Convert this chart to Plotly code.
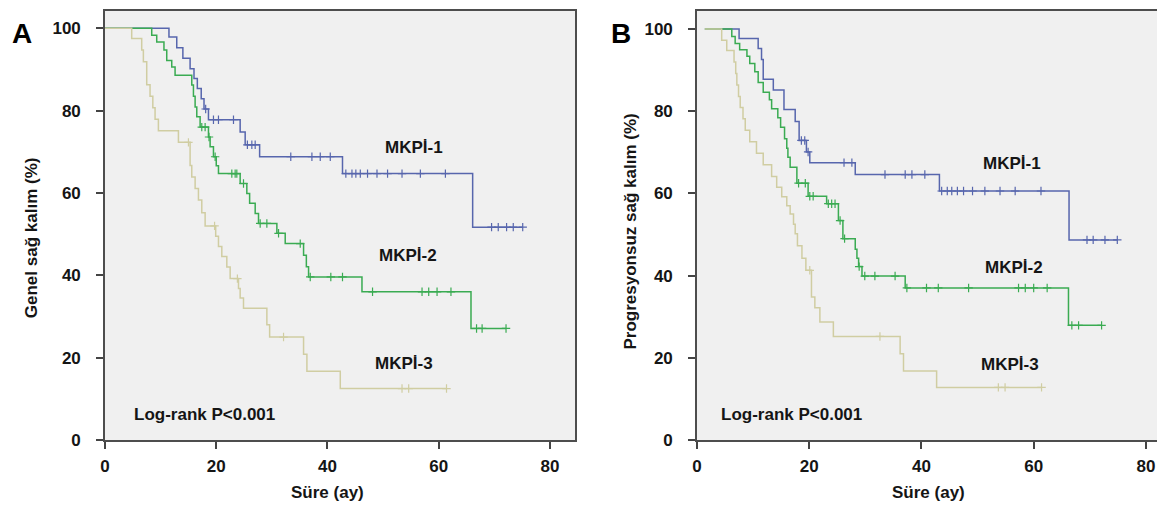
import plotly.graph_objects as go

# the page puts the figure 8px in from the top-left corner
OFF = 8
W, H = 1165 - OFF, 505 - OFF

# ---- Panel A: Genel sağ kalım (time in months, survival %) ----
a1_t = [11.5, 12.9, 14.0, 15.3, 16.0, 16.6, 17.3, 17.8, 18.6, 24.3, 25.2, 27.8, 42.7, 66.1]
a1_s = [97.9, 95.3, 92.7, 90.2, 87.8, 85.4, 82.9, 80.4, 77.8, 74.8, 71.7, 68.8, 64.7, 51.7]
a1_c = [18.1, 19.5, 20.4, 23.1, 25.6, 26.4, 27.0, 33.4, 37.2, 38.7, 40.5, 43.3, 44.4, 45.1,
        45.9, 47.2, 48.9, 50.8, 53.4, 56.7, 61.2, 69.5, 70.7, 72.2, 73.4, 75.1]

a2_t = [8.4, 9.3, 10.6, 11.1, 12.0, 12.6, 15.6, 15.9, 16.2, 16.5, 17.1, 18.6, 18.9, 19.5, 20.0,
        20.4, 24.3, 25.5, 26.0, 27.0, 27.6, 30.9, 32.4, 35.7, 36.2, 36.6, 46.2, 65.8]
a2_s = [98.3, 96.7, 94.7, 92.2, 90.6, 88.6, 86.2, 83.5, 80.9, 78.5, 76.0, 73.6, 71.2, 68.8, 66.6,
        64.7, 62.3, 59.9, 57.5, 55.0, 52.6, 50.2, 47.7, 44.9, 42.1, 39.6, 36.0, 27.1]
a2_c = [17.4, 18.0, 18.7, 19.8, 22.8, 23.4, 23.7, 24.9, 27.9, 29.1, 31.2, 35.1, 36.9, 40.6,
        42.7, 48.1, 57.0, 58.2, 59.7, 62.2, 66.8, 67.8, 72.1]

a3_t = [4.8, 6.6, 6.9, 7.5, 8.1, 8.6, 9.0, 9.6, 13.2, 15.3, 15.6, 16.2, 16.8, 17.4, 18.0, 19.9,
        20.4, 21.0, 21.9, 22.5, 24.0, 24.3, 24.9, 29.1, 29.6, 35.7, 36.3, 42.3]
a3_s = [97.5, 94.7, 91.9, 86.3, 83.5, 80.7, 77.9, 75.1, 72.3, 66.7, 63.9, 61.1, 58.3, 55.2, 52.0,
        49.5, 47.0, 44.6, 42.0, 39.2, 36.8, 34.5, 32.0, 28.0, 25.0, 20.8, 16.7, 12.5]
a3_c = [15.0, 19.7, 23.8, 32.1, 53.4, 54.6, 61.4]

# ---- Panel B: Progresyonsuz sağ kalım ----
b1_t = [7.5, 10.9, 11.5, 11.8, 13.6, 15.5, 17.5, 18.2, 19.5, 20.1, 28.2, 43.2, 66.3]
b1_s = [97.7, 95.3, 92.6, 87.8, 85.2, 80.4, 77.5, 72.9, 70.1, 67.5, 64.6, 60.6, 48.7]
b1_c = [18.6, 19.2, 19.8, 26.2, 27.6, 33.5, 37.1, 38.3, 40.6, 43.6, 44.6, 45.4, 46.4, 47.5,
        49.1, 51.3, 54.0, 56.7, 61.3, 69.5, 70.6, 72.7, 74.9]

b2_t = [6.2, 6.8, 7.6, 8.9, 9.4, 10.3, 10.9, 11.8, 12.9, 13.3, 14.4, 14.9, 15.6, 16.0, 16.2,
        16.6, 17.8, 19.8, 23.1, 25.2, 26.0, 28.2, 28.5, 28.8, 29.4, 37.1, 66.2]
b2_s = [98.2, 96.5, 95.0, 93.4, 91.6, 89.6, 87.0, 84.6, 82.8, 80.6, 78.4, 76.1, 73.3, 71.0, 68.8,
        66.4, 62.5, 59.3, 57.5, 53.4, 49.0, 46.4, 44.2, 42.2, 39.9, 37.0, 27.9]
b2_c = [18.1, 19.3, 20.1, 20.7, 23.4, 24.0, 24.6, 25.5, 26.3, 28.9, 29.9, 31.7, 35.3, 37.4,
        40.9, 43.0, 48.4, 57.3, 58.5, 60.0, 62.4, 66.8, 68.0, 72.1]

b3_t = [4.4, 5.3, 6.6, 6.9, 7.1, 7.4, 7.7, 8.2, 8.6, 9.4, 10.6, 11.8, 13.3, 14.2, 15.1, 16.0,
        16.6, 17.2, 17.5, 17.9, 18.7, 19.4, 20.4, 21.0, 21.9, 24.3, 36.2, 36.8, 42.7]
b3_s = [97.3, 94.8, 92.0, 89.2, 86.4, 83.6, 80.9, 78.2, 75.4, 72.6, 69.8, 67.0, 64.1, 61.5, 59.2,
        57.0, 55.0, 52.5, 50.2, 47.3, 44.2, 41.3, 34.8, 32.2, 28.7, 25.2, 21.0, 16.8, 12.8]
b3_c = [20.1, 32.6, 53.7, 54.9, 61.4]

groups = ["MKPİ-1", "MKPİ-2", "MKPİ-3"]
colors = ["#5766ad", "#3aab52", "#d0cda2"]

FONT = "Arial, Liberation Sans, sans-serif"
TXT = "#151515"


def level_at(t, times, surv):
    s = 100.0
    for ti, si in zip(times, surv):
        if ti <= t:
            s = si
    return s


def add_km(fig, times, surv, cens, start, color, xa, ya):
    end = max(cens[-1], times[-1])
    xs = [start] + times + [end]
    ys = [100.0] + surv + [surv[-1]]
    fig.add_trace(go.Scatter(x=xs, y=ys, mode="lines", line=dict(color=color, width=1.5, shape="hv"),
                             xaxis=xa, yaxis=ya, showlegend=False, hoverinfo="skip"))
    fig.add_trace(go.Scatter(x=cens, y=[level_at(c, times, surv) for c in cens], mode="markers",
                             marker=dict(symbol="cross-thin", size=6, line=dict(color=color, width=1.2)),
                             xaxis=xa, yaxis=ya, showlegend=False, hoverinfo="skip"))


fig = go.Figure()
for (t, s, c), col in zip([(a1_t, a1_s, a1_c), (a2_t, a2_s, a2_c), (a3_t, a3_s, a3_c)], colors):
    add_km(fig, t, s, c, 0.0, col, "x", "y")
for (t, s, c), col in zip([(b1_t, b1_s, b1_c), (b2_t, b2_s, b2_c), (b3_t, b3_s, b3_c)], colors):
    add_km(fig, t, s, c, 1.4, col, "x2", "y2")


def px_x(px):
    return (px - OFF) / W


def px_y(py):
    return 1 - (py - OFF) / H


tickfont = dict(family=FONT, size=17, color=TXT, weight="bold")
ax_common = dict(showgrid=False, zeroline=False, showline=True, linecolor="#4d4d4d", linewidth=1.6,
                 ticks="outside", ticklen=7, tickwidth=1.6, tickcolor="#444", tickfont=tickfont,
                 automargin=False)

ydom = [px_y(440), px_y(11)]
fig.update_layout(
    width=W, height=H, margin=dict(l=0, r=0, t=0, b=0),
    paper_bgcolor="white", plot_bgcolor="#f0f0f0",
    xaxis=dict(domain=[px_x(105), px_x(575)], range=[0, 84.5], tickvals=[0, 20, 40, 60, 80],
               mirror=True, anchor="y", ticklabelstandoff=3, **ax_common),
    yaxis=dict(domain=ydom, range=[0, 104.2], tickvals=[0, 20, 40, 60, 80, 100],
               mirror=True, anchor="x", ticklabelstandoff=12, **ax_common),
    xaxis2=dict(domain=[px_x(697), 1.0], range=[0, 83.4], tickvals=[0, 20, 40, 60, 80],
                mirror=True, anchor="y2", ticklabelstandoff=3, **ax_common),
    yaxis2=dict(domain=ydom, range=[0, 104.4], tickvals=[0, 20, 40, 60, 80, 100],
                mirror=False, anchor="x2", ticklabelstandoff=12, **ax_common),
)

lab = dict(family=FONT, size=17, color=TXT, weight="bold")
ann = []
# curve labels
for xr, yr, pts in [("x", "y", [(55.6, 71.1), (54.5, 44.7), (53.8, 18.6)]),
                    ("x2", "y2", [(56.1, 67.4), (56.5, 42.1), (55.7, 18.4)])]:
    for name, (px, py) in zip(groups, pts):
        ann.append(dict(x=px, y=py, xref=xr, yref=yr, text=name, showarrow=False, font=lab))
ann.append(dict(x=17.8, y=6.2, xref="x", yref="y", text="Log-rank P<0.001", showarrow=False, font=lab))
ann.append(dict(x=16.8, y=6.3, xref="x2", yref="y2", text="Log-rank P<0.001", showarrow=False, font=lab))

# axis titles and panel letters (reference pixel positions)
for text, (px, py), angle in [("Genel sağ kalım (%)", (31.7, 237.5), -90),
                              ("Progresyonsuz sağ kalım (%)", (629.5, 232), -90),
                              ("Süre (ay)", (327, 492), 0),
                              ("Süre (ay)", (928.5, 492), 0)]:
    ann.append(dict(x=px_x(px), y=px_y(py), xref="paper", yref="paper", text=text, textangle=angle,
                    showarrow=False, font=lab, xanchor="center", yanchor="middle"))
for text, (px, py) in [("A", (21.5, 33)), ("B", (620.5, 33))]:
    ann.append(dict(x=px_x(px), y=px_y(py), xref="paper", yref="paper", text=text, showarrow=False,
                    font=dict(family=FONT, size=28, color="#000", weight="bold"),
                    xanchor="center", yanchor="middle"))

fig.update_layout(annotations=ann)
fig.write_html("out.html")
